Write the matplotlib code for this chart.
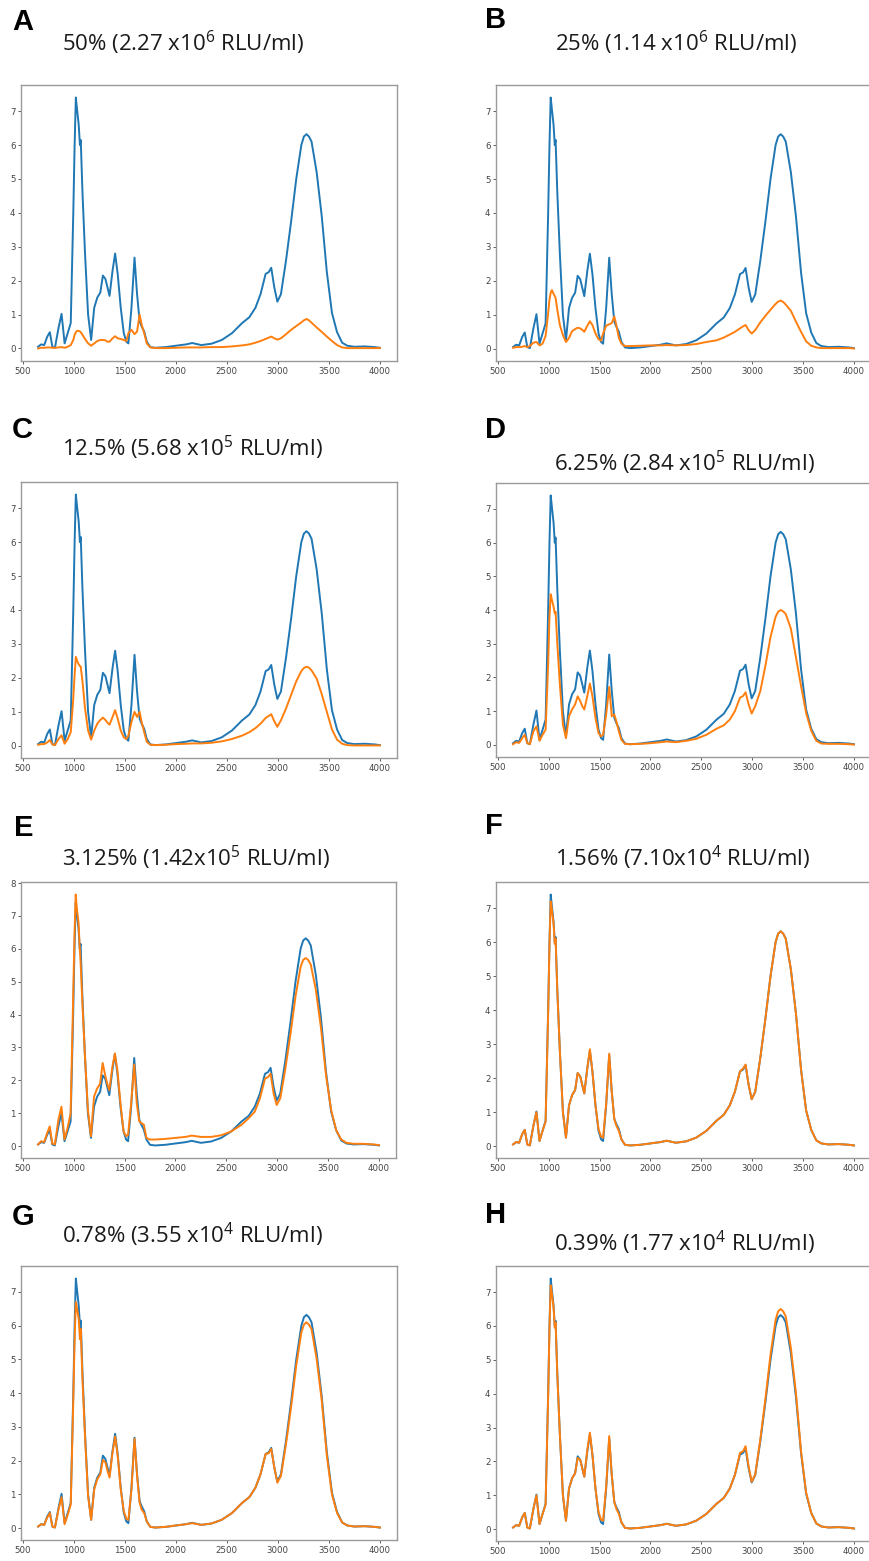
import numpy as np
import matplotlib.pyplot as plt

plt.rcParams['mathtext.fontset'] = 'custom'
plt.rcParams['mathtext.rm'] = 'Open Sans'
plt.rcParams['mathtext.it'] = 'Open Sans'

# wavenumber grid (cm-1), shared by all traces
wn = [650, 680, 710, 740, 765, 790, 815, 850, 880, 910,
      940, 970, 995, 1008, 1020, 1032, 1048, 1060, 1068, 1085,
      1110, 1140, 1170, 1200, 1230, 1260, 1285, 1310, 1330, 1350,
      1380, 1405, 1430, 1460, 1490, 1515, 1535, 1565, 1595, 1620,
      1645, 1665, 1690, 1715, 1750, 1800, 1900, 2000, 2100, 2160,
      2250, 2350, 2450, 2550, 2650, 2720, 2780, 2830, 2880, 2910,
      2935, 2965, 2995, 3030, 3080, 3130, 3180, 3230, 3255, 3280,
      3305, 3330, 3380, 3430, 3480, 3530, 3580, 3630, 3680, 3750,
      3850, 3950, 4000]

# reference spectrum (blue, same in every panel)
ref = [0.05, 0.12, 0.10, 0.35, 0.48, 0.05, 0.02, 0.60, 1.02, 0.15,
       0.45, 0.75, 4.00, 6.00, 7.40, 7.05, 6.60, 6.00, 6.15, 4.60,
       2.80, 1.00, 0.25, 1.20, 1.50, 1.65, 2.15, 2.05, 1.80, 1.55,
       2.30, 2.80, 2.20, 1.20, 0.45, 0.20, 0.15, 1.20, 2.68, 1.60,
       0.80, 0.65, 0.50, 0.20, 0.04, 0.02, 0.04, 0.08, 0.12, 0.16,
       0.10, 0.14, 0.25, 0.45, 0.75, 0.92, 1.20, 1.60, 2.20, 2.25,
       2.38, 1.80, 1.38, 1.60, 2.60, 3.75, 5.00, 6.00, 6.25, 6.32,
       6.25, 6.10, 5.20, 3.90, 2.25, 1.05, 0.48, 0.17, 0.08, 0.05,
       0.06, 0.04, 0.02]

# dilution spectra (orange)
dil_a = [0.00, 0.02, 0.02, 0.03, 0.03, 0.02, 0.02, 0.03, 0.04, 0.02,
         0.05, 0.10, 0.25, 0.40, 0.48, 0.52, 0.52, 0.50, 0.48, 0.40,
         0.28, 0.15, 0.08, 0.15, 0.22, 0.25, 0.25, 0.24, 0.20, 0.20,
         0.30, 0.36, 0.30, 0.28, 0.25, 0.22, 0.45, 0.55, 0.42, 0.50,
         1.00, 0.70, 0.45, 0.15, 0.03, 0.01, 0.01, 0.02, 0.03, 0.03,
         0.03, 0.04, 0.04, 0.06, 0.09, 0.12, 0.17, 0.22, 0.28, 0.32,
         0.35, 0.30, 0.26, 0.30, 0.42, 0.55, 0.66, 0.77, 0.83, 0.87,
         0.83, 0.76, 0.62, 0.49, 0.35, 0.22, 0.10, 0.03, 0.01, 0.01,
         0.01, 0.01, 0.01]
dil_b = [0.03, 0.05, 0.05, 0.06, 0.08, 0.05, 0.08, 0.18, 0.20, 0.10,
         0.15, 0.38, 1.05, 1.45, 1.65, 1.73, 1.62, 1.55, 1.50, 1.15,
         0.70, 0.40, 0.20, 0.32, 0.52, 0.58, 0.62, 0.60, 0.56, 0.50,
         0.68, 0.81, 0.70, 0.45, 0.28, 0.24, 0.45, 0.68, 0.72, 0.76,
         0.95, 0.70, 0.32, 0.15, 0.08, 0.08, 0.09, 0.10, 0.10, 0.11,
         0.10, 0.11, 0.14, 0.20, 0.25, 0.33, 0.42, 0.50, 0.60, 0.66,
         0.70, 0.55, 0.45, 0.55, 0.78, 0.97, 1.15, 1.32, 1.39, 1.42,
         1.38, 1.30, 1.12, 0.80, 0.50, 0.22, 0.09, 0.04, 0.02, 0.02,
         0.02, 0.02, 0.01]
dil_c = [0.03, 0.05, 0.05, 0.10, 0.17, 0.04, 0.02, 0.20, 0.31, 0.06,
         0.20, 0.40, 1.40, 2.10, 2.62, 2.50, 2.40, 2.35, 2.33, 1.90,
         1.10, 0.45, 0.18, 0.45, 0.65, 0.76, 0.83, 0.76, 0.68, 0.62,
         0.85, 1.05, 0.80, 0.45, 0.25, 0.20, 0.30, 0.70, 1.00, 0.85,
         1.00, 0.70, 0.40, 0.12, 0.03, 0.02, 0.03, 0.05, 0.06, 0.07,
         0.07, 0.09, 0.13, 0.20, 0.30, 0.40, 0.52, 0.65, 0.82, 0.88,
         0.93, 0.72, 0.56, 0.75, 1.10, 1.50, 1.90, 2.20, 2.29, 2.33,
         2.30, 2.22, 1.98, 1.52, 1.00, 0.48, 0.18, 0.06, 0.02, 0.01,
         0.01, 0.01, 0.01]
dil_d = [0.02, 0.08, 0.06, 0.20, 0.30, 0.05, 0.02, 0.40, 0.55, 0.12,
         0.30, 0.45, 2.40, 3.80, 4.47, 4.30, 4.10, 3.90, 3.95, 3.00,
         1.80, 0.60, 0.20, 0.85, 1.05, 1.20, 1.44, 1.30, 1.15, 1.05,
         1.45, 1.82, 1.45, 0.80, 0.35, 0.25, 0.30, 0.90, 1.72, 0.85,
         0.90, 0.70, 0.40, 0.15, 0.03, 0.02, 0.03, 0.05, 0.08, 0.10,
         0.08, 0.12, 0.18, 0.30, 0.48, 0.58, 0.75, 1.00, 1.40, 1.45,
         1.56, 1.20, 0.93, 1.15, 1.60, 2.35, 3.20, 3.80, 3.95, 4.00,
         3.96, 3.88, 3.45, 2.60, 1.75, 0.95, 0.42, 0.12, 0.04, 0.03,
         0.03, 0.02, 0.01]
dil_e = [0.05, 0.15, 0.12, 0.40, 0.60, 0.08, 0.05, 0.80, 1.20, 0.20,
         0.55, 1.00, 4.50, 6.40, 7.65, 7.20, 6.80, 6.00, 5.60, 4.40,
         2.80, 1.10, 0.30, 1.50, 1.75, 1.90, 2.53, 2.15, 1.90, 1.70,
         2.40, 2.82, 2.30, 1.30, 0.45, 0.30, 0.35, 1.30, 2.48, 1.30,
         0.75, 0.70, 0.65, 0.25, 0.20, 0.20, 0.22, 0.25, 0.28, 0.32,
         0.28, 0.28, 0.33, 0.45, 0.65, 0.85, 1.05, 1.45, 2.05, 2.10,
         2.20, 1.60, 1.25, 1.45, 2.35, 3.40, 4.55, 5.45, 5.66, 5.72,
         5.66, 5.52, 4.75, 3.60, 2.15, 1.10, 0.48, 0.20, 0.10, 0.07,
         0.07, 0.05, 0.03]
dil_f = [0.05, 0.12, 0.10, 0.35, 0.48, 0.05, 0.02, 0.60, 1.00, 0.15,
         0.45, 0.72, 3.90, 5.90, 7.20, 6.95, 6.55, 5.95, 6.10, 4.55,
         2.80, 1.00, 0.25, 1.20, 1.50, 1.65, 2.15, 2.05, 1.80, 1.55,
         2.30, 2.85, 2.20, 1.20, 0.50, 0.28, 0.25, 1.25, 2.72, 1.60,
         0.80, 0.60, 0.45, 0.20, 0.04, 0.02, 0.04, 0.08, 0.12, 0.16,
         0.10, 0.14, 0.25, 0.45, 0.75, 0.92, 1.20, 1.60, 2.20, 2.28,
         2.40, 1.80, 1.38, 1.60, 2.60, 3.75, 5.00, 6.00, 6.25, 6.32,
         6.25, 6.10, 5.20, 3.90, 2.25, 1.05, 0.48, 0.17, 0.08, 0.05,
         0.06, 0.04, 0.02]
dil_g = [0.05, 0.12, 0.10, 0.32, 0.45, 0.05, 0.02, 0.55, 0.92, 0.12,
         0.40, 0.70, 3.80, 5.60, 6.70, 6.50, 6.20, 5.60, 5.90, 4.40,
         2.70, 0.95, 0.25, 1.15, 1.45, 1.60, 2.02, 1.95, 1.70, 1.50,
         2.25, 2.72, 2.15, 1.15, 0.50, 0.28, 0.25, 1.15, 2.65, 1.55,
         0.75, 0.55, 0.45, 0.20, 0.04, 0.02, 0.04, 0.08, 0.12, 0.15,
         0.10, 0.14, 0.25, 0.45, 0.75, 0.92, 1.20, 1.60, 2.20, 2.22,
         2.35, 1.80, 1.35, 1.55, 2.50, 3.60, 4.82, 5.80, 6.03, 6.10,
         6.03, 5.90, 5.02, 3.78, 2.15, 1.00, 0.45, 0.17, 0.08, 0.05,
         0.06, 0.04, 0.02]
dil_h = [0.05, 0.12, 0.10, 0.35, 0.48, 0.05, 0.02, 0.60, 1.00, 0.15,
         0.45, 0.72, 3.90, 5.90, 7.20, 6.95, 6.55, 5.95, 6.10, 4.55,
         2.80, 1.00, 0.25, 1.20, 1.50, 1.65, 2.10, 2.05, 1.80, 1.55,
         2.35, 2.85, 2.20, 1.20, 0.50, 0.28, 0.25, 1.25, 2.75, 1.60,
         0.80, 0.60, 0.45, 0.20, 0.04, 0.02, 0.04, 0.08, 0.12, 0.16,
         0.10, 0.14, 0.25, 0.45, 0.75, 0.92, 1.20, 1.60, 2.25, 2.30,
         2.45, 1.85, 1.40, 1.62, 2.65, 3.85, 5.15, 6.18, 6.43, 6.50,
         6.43, 6.28, 5.35, 4.02, 2.30, 1.08, 0.48, 0.17, 0.08, 0.05,
         0.06, 0.04, 0.02]

letters = ['A', 'B', 'C', 'D', 'E', 'F', 'G', 'H']
titles = [r'50% (2.27 x10$^{6}$ RLU/ml)',
          r'25% (1.14 x10$^{6}$ RLU/ml)',
          r'12.5% (5.68 x10$^{5}$ RLU/ml)',
          r'6.25% (2.84 x10$^{5}$ RLU/ml)',
          r'3.125% (1.42x10$^{5}$ RLU/ml)',
          r'1.56% (7.10x10$^{4}$ RLU/ml)',
          r'0.78% (3.55 x10$^{4}$ RLU/ml)',
          r'0.39% (1.77 x10$^{4}$ RLU/ml)']
dilutions = [dil_a, dil_b, dil_c, dil_d, dil_e, dil_f, dil_g, dil_h]

W, H = 869, 1561
fig = plt.figure(figsize=(W / 100, H / 100), dpi=100)

# pixel boxes: left, top, right, bottom
boxes = [(21, 85, 397, 361), (496, 85, 871, 361),
         (21, 482, 397, 758), (496, 483, 871, 757),
         (21, 882, 396, 1158), (496, 882, 871, 1158),
         (21, 1266, 397, 1540), (496, 1266, 871, 1541)]
title_pos = [(62, 43), (555, 43), (62, 448), (554, 463),
             (62, 858), (555, 858), (62, 1235), (554, 1243)]
letter_pos = [(12, 22), (485, 20), (12, 430), (485, 430),
              (14, 828), (485, 826), (12, 1217), (485, 1215)]

for i in range(8):
    l, t, r, b = boxes[i]
    ax = fig.add_axes([l / W, 1 - b / H, (r - l) / W, (b - t) / H])
    ax.plot(wn, ref, color='#1f77b4', lw=1.4)
    ax.plot(wn, dilutions[i], color='#ff7f0e', lw=1.4)
    ax.set_xticks(np.arange(500, 4001, 500))
    ax.tick_params(labelsize=6.2, length=2.5, width=0.6, pad=1.5,
                   colors='#444444')
    for s in ax.spines.values():
        s.set_color('#9a9a9a')
        s.set_linewidth(1.0)
    tx, ty = title_pos[i]
    fig.text(tx / W, 1 - ty / H, titles[i], fontsize=16,
             family='Open Sans', color='#1a1a1a', ha='left', va='center')
    lx, ly = letter_pos[i]
    fig.text(lx / W, 1 - ly / H, letters[i], fontsize=21,
             family='Liberation Sans', fontweight='bold', ha='left',
             va='center')

fig.savefig('out.png', dpi=100)
